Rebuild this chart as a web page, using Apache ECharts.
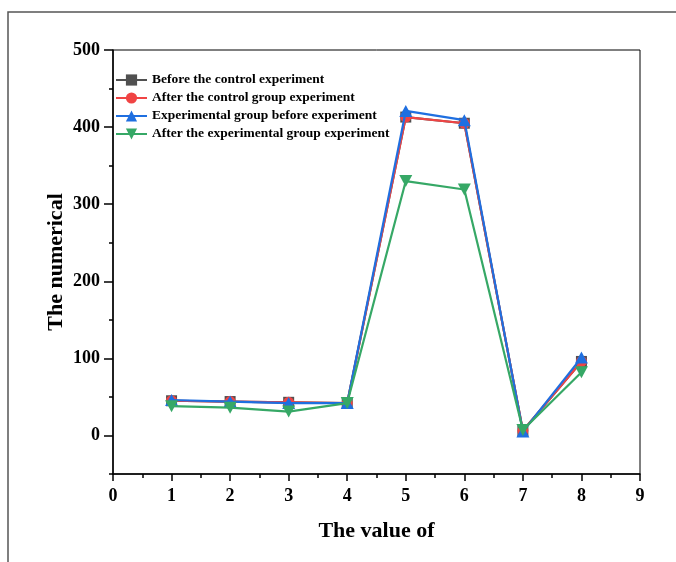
<!DOCTYPE html>
<html><head><meta charset="utf-8">
<script src="https://cdn.jsdelivr.net/npm/echarts@6/dist/echarts.min.js"></script>
<style>html,body{margin:0;padding:0;background:#fff}#c{width:676px;height:562px}</style>
</head><body><div id="c"></div>
<script>
var xValues = [1, 2, 3, 4, 5, 6, 7, 8];
var seriesNames = ['Before the control experiment', 'After the control group experiment', 'Experimental group before experiment', 'After the experimental group experiment'];
var beforeControl = [45, 44, 43, 42, 413, 405, 6, 96];
var afterControl = [45, 44, 43, 42, 413, 405, 6, 96];
var expBefore = [46, 44, 42, 42, 421, 409, 5, 101];
var expAfter = [38, 36, 31, 42, 330, 319, 7, 82];
var yLabelTicks = [0, 100, 200, 300, 400, 500];

var colors = ['#505050', '#F04444', '#1F6FE0', '#36A866'];
var symbols = ['rect', 'circle', 'triangle', 'path://M0,0 L10,0 L5,9 Z'];
var allData = [beforeControl, afterControl, expBefore, expAfter];
var font = "'Liberation Serif', 'Times New Roman', serif";

var series = allData.map(function (arr, i) {
  return {
    name: seriesNames[i], type: 'line', xAxisIndex: 0, yAxisIndex: 0,
    data: arr.map(function (v, j) { return [xValues[j], v]; }),
    symbol: symbols[i], symbolSize: (i >= 2) ? [13, 12] : 11,
    lineStyle: { color: colors[i], width: 2.2 },
    itemStyle: { color: colors[i] },
    z: 2 + i
  };
});

var chart = echarts.init(document.getElementById('c'), null, { renderer: 'canvas' });
chart.setOption({
  animation: false,
  backgroundColor: '#fff',
  graphic: [{
    type: 'rect', shape: { x: 8, y: 12, width: 700, height: 600 },
    style: { fill: 'none', stroke: '#555', lineWidth: 1.5 }, silent: true
  }],
  grid: { left: 113, right: 36, top: 50, bottom: 88, show: true, borderColor: '#000', borderWidth: 1, backgroundColor: 'transparent' },
  legend: {
    orient: 'vertical', left: 110, top: 68, itemGap: 4, itemWidth: 31, itemHeight: 14,
    textStyle: { fontFamily: font, fontWeight: 'bold', fontSize: 13.5, color: '#000' },
    data: seriesNames
  },
  xAxis: [{
    type: 'value', min: 0, max: 9, interval: 1,
    name: 'The value of', nameLocation: 'middle', nameGap: 46, nameMoveOverlap: false,
    nameTextStyle: { fontFamily: font, fontWeight: 'bold', fontSize: 22, color: '#000' },
    axisLine: { onZero: false, lineStyle: { color: '#000', width: 1.5 } },
    axisTick: { show: true, inside: false, length: 7, lineStyle: { color: '#000', width: 1.5 } },
    minorTick: { show: true, splitNumber: 2, length: 4, lineStyle: { color: '#000', width: 1.5 } },
    axisLabel: { fontFamily: font, fontWeight: 'bold', fontSize: 18, color: '#000', margin: 13 },
    splitLine: { show: false }, minorSplitLine: { show: false }
  }],
  yAxis: [{
    type: 'value', min: -50, max: 500,
    name: 'The numerical', nameLocation: 'middle', nameGap: 46, nameMoveOverlap: false,
    nameTextStyle: { fontFamily: font, fontWeight: 'bold', fontSize: 22, color: '#000' },
    axisLine: { show: true, onZero: false, lineStyle: { color: '#000', width: 1.5 } },
    axisTick: { show: true, length: 9, customValues: yLabelTicks, lineStyle: { color: '#000', width: 1.5 } },
    axisLabel: { customValues: yLabelTicks, fontFamily: font, fontWeight: 'bold', fontSize: 18, color: '#000', margin: 13 },
    splitLine: { show: false }
  }, {
    type: 'value', min: -50, max: 500, interval: 50, position: 'left',
    axisLine: { show: false, onZero: false },
    axisTick: { show: true, length: 4, lineStyle: { color: '#000', width: 1.5 } },
    axisLabel: { show: false }, splitLine: { show: false }
  }],
  series: series
});
</script></body></html>
